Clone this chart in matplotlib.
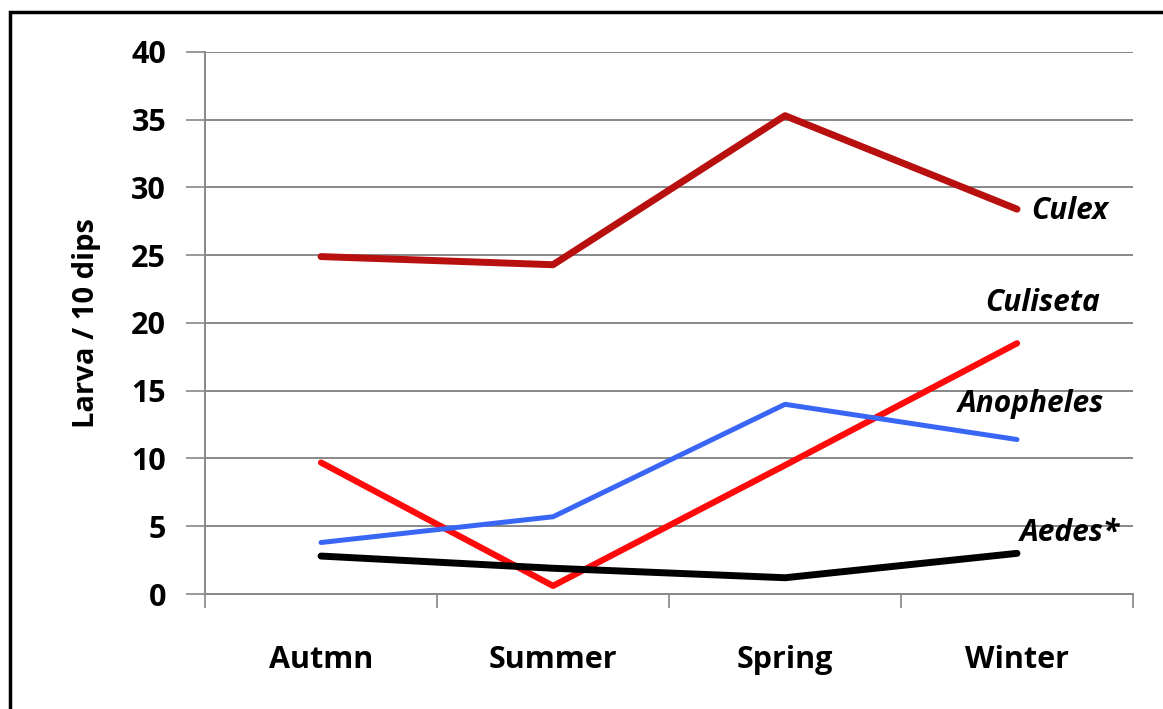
import numpy as np
import matplotlib.pyplot as plt
from matplotlib.patches import Rectangle

plt.rcParams['font.family'] = ['Open Sans', 'DejaVu Sans']

seasons = ['Autmn', 'Summer', 'Spring', 'Winter']
culex = [24.9, 24.3, 35.3, 28.4]
culiseta = [9.7, 0.6, 9.5, 18.5]
anopheles = [3.8, 5.7, 14.0, 11.4]
aedes = [2.8, 1.9, 1.2, 3.0]

x = np.arange(len(seasons))

fig = plt.figure(figsize=(11.63, 7.09), dpi=100)
ax = fig.add_axes([0.1763, 0.1622, 0.7979, 0.7645])

# outer frame around the chart area
fig.patches.append(Rectangle((10 / 1163, -0.05), 1.1, 1 - 12 / 709 + 0.05,
                             transform=fig.transFigure, fill=False,
                             edgecolor='black', linewidth=2.5))

ax.plot(x, culex, color='#B80F0F', linewidth=5, solid_capstyle='round', zorder=3)
ax.plot(x, culiseta, color='#FF0A0A', linewidth=4.5, solid_capstyle='round', zorder=3)
ax.plot(x, anopheles, color='#3A66F5', linewidth=3.6, solid_capstyle='round', zorder=3)
ax.plot(x, aedes, color='black', linewidth=5, solid_capstyle='round', zorder=3)

lab = dict(fontsize=21.5, fontweight='bold', style='italic', va='center')
ax.text(3.06, 28.3, 'Culex', ha='left', **lab)
ax.text(3.11, 21.5, 'Culiseta', ha='center', **lab)
ax.text(3.06, 14.0, 'Anopheles', ha='center', **lab)
ax.text(3.01, 4.5, 'Aedes*', ha='left', **lab)

ax.set_xlim(-0.5, 3.5)
ax.set_ylim(0, 40)
ax.set_yticks(np.arange(0, 41, 5))
ax.set_xticks(x)
ax.set_xticklabels(seasons, fontsize=22, fontweight='bold')
ax.set_xticks(np.arange(-0.5, 3.6, 1), minor=True)
ax.tick_params(axis='x', which='major', length=0, pad=37)
ax.tick_params(axis='x', which='minor', length=10, width=1.2, color='#888888', direction='out')
ax.tick_params(axis='y', length=14, width=1.2, color='#888888', pad=14, labelsize=22)
for t in ax.get_yticklabels():
    t.set_fontweight('bold')

ax.grid(axis='y', color='#888888', linewidth=1.4)
ax.set_axisbelow(True)
for s in ['top', 'right']:
    ax.spines[s].set_visible(False)
for s in ['left', 'bottom']:
    ax.spines[s].set_color('#888888')
    ax.spines[s].set_linewidth(1.4)

ax.set_ylabel('Larva / 10 dips', fontsize=21, fontweight='bold', labelpad=22)

fig.savefig('out.png', dpi=100)
